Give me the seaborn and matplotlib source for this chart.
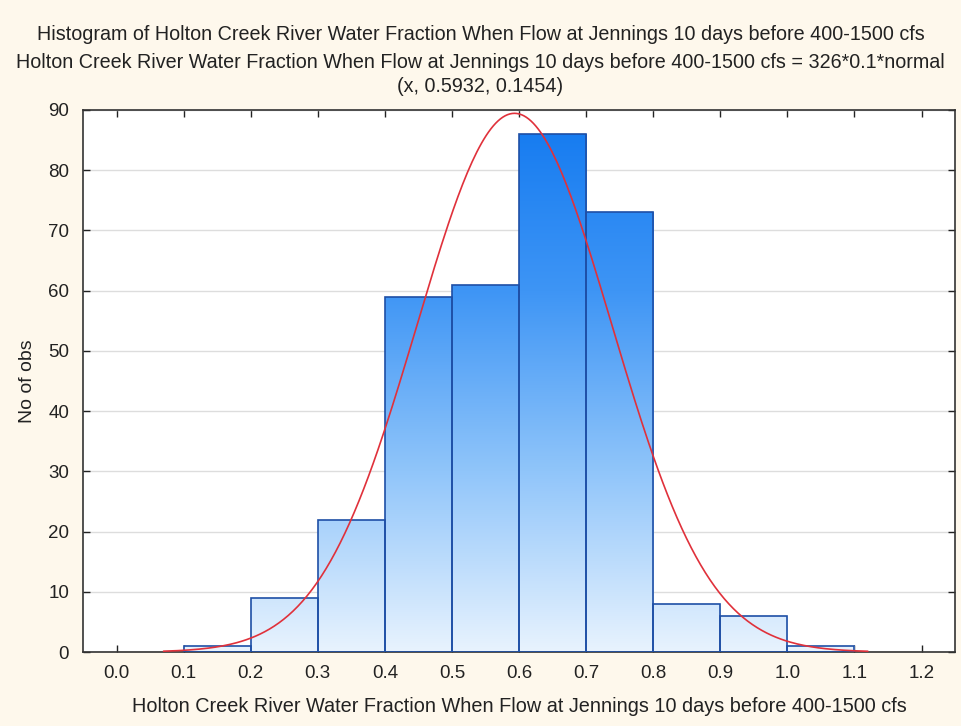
import numpy as np
import pandas as pd
import matplotlib
matplotlib.use("Agg")
import matplotlib.pyplot as plt
import seaborn as sns
from matplotlib.colors import LinearSegmentedColormap

# Histogram bins and counts
bin_edges = [0.1, 0.2, 0.3, 0.4, 0.5, 0.6, 0.7, 0.8, 0.9, 1.0, 1.1]
counts = [1, 9, 22, 59, 61, 86, 73, 8, 6, 1]
x_ticks = [0.0, 0.1, 0.2, 0.3, 0.4, 0.5, 0.6, 0.7, 0.8, 0.9, 1.0, 1.1, 1.2]
y_ticks = [0, 10, 20, 30, 40, 50, 60, 70, 80, 90]

# Fitted normal: N * bin width * normal(x, mean, sd)
n_obs = 326
bin_width = 0.1
mu, sd = 0.5932, 0.1454

title_lines = [
    "Histogram of Holton Creek River Water Fraction When Flow at Jennings 10 days before 400-1500 cfs",
    "Holton Creek River Water Fraction When Flow at Jennings 10 days before 400-1500 cfs = 326*0.1*normal",
    "(x, 0.5932, 0.1454)",
]
x_label = "Holton Creek River Water Fraction When Flow at Jennings 10 days before 400-1500 cfs"
y_label = "No of obs"

sns.set_theme(style="white")
plt.rcParams["font.family"] = ["Liberation Sans", "DejaVu Sans"]

bg = "#FEF8EC"
fig = plt.figure(figsize=(9.61, 7.26), dpi=100, facecolor=bg)
ax = fig.add_axes([0.0864, 0.1019, 0.9074, 0.7466])
ax.set_facecolor("white")

df = pd.DataFrame({
    "x": [(a + b) / 2 for a, b in zip(bin_edges[:-1], bin_edges[1:])],
    "n": counts,
})
sns.histplot(data=df, x="x", weights="n", bins=bin_edges, ax=ax,
             edgecolor="#1E4FA6", linewidth=1.2, facecolor="none", zorder=3)

xlim = (-0.05, 1.25)
ylim = (0, 90)
ax.set_xlim(*xlim)
ax.set_ylim(*ylim)

# Vertical blue gradient fill, darker toward the top of the value scale
cmap = LinearSegmentedColormap.from_list("blues_grad", ["#E8F3FE", "#90C5FA", "#3E95F5", "#1279F0"])
grad = np.linspace(0, 1, 256).reshape(-1, 1)
for patch in ax.patches:
    patch.set_facecolor("none")
    im = ax.imshow(grad, cmap=cmap, aspect="auto", origin="lower",
                   extent=[xlim[0], xlim[1], ylim[0], ylim[1]], zorder=2,
                   interpolation="bilinear")
    im.set_clip_path(patch)
ax.set_xlim(*xlim)
ax.set_ylim(*ylim)

# Normal curve
xs = np.linspace(0.07, 1.12, 300)
ys = n_obs * bin_width * np.exp(-0.5 * ((xs - mu) / sd) ** 2) / (sd * np.sqrt(2 * np.pi))
sns.lineplot(x=xs, y=ys, ax=ax, color="#E0313B", linewidth=1.2, zorder=4, clip_on=False)

ax.set_xticks(x_ticks)
ax.set_xticklabels([f"{t:.1f}" for t in x_ticks])
ax.set_yticks(y_ticks)
ax.yaxis.grid(True, color="#DDDDDD", linewidth=1.0, zorder=0)
ax.xaxis.grid(False)
ax.set_axisbelow(True)
ax.tick_params(axis="both", which="both", direction="in", length=5, width=1,
               color="#222222", labelsize=13.5, labelcolor="#222222",
               top=True, right=True, bottom=True, left=True)
ax.tick_params(axis="x", pad=9)
ax.tick_params(axis="y", pad=10)
for s in ax.spines.values():
    s.set_color("#333333")
    s.set_linewidth(1.2)

ax.set_xlabel(x_label, fontsize=14.3, color="#222222", labelpad=11)
ax.set_ylabel(y_label, fontsize=14, color="#222222", labelpad=9)

title_ys = [0.953, 0.914, 0.881]
for t, yy in zip(title_lines, title_ys):
    fig.text(0.5, yy, t, ha="center", va="center", fontsize=14.2, color="#222222")

fig.savefig("out.png", dpi=100, facecolor=bg)
